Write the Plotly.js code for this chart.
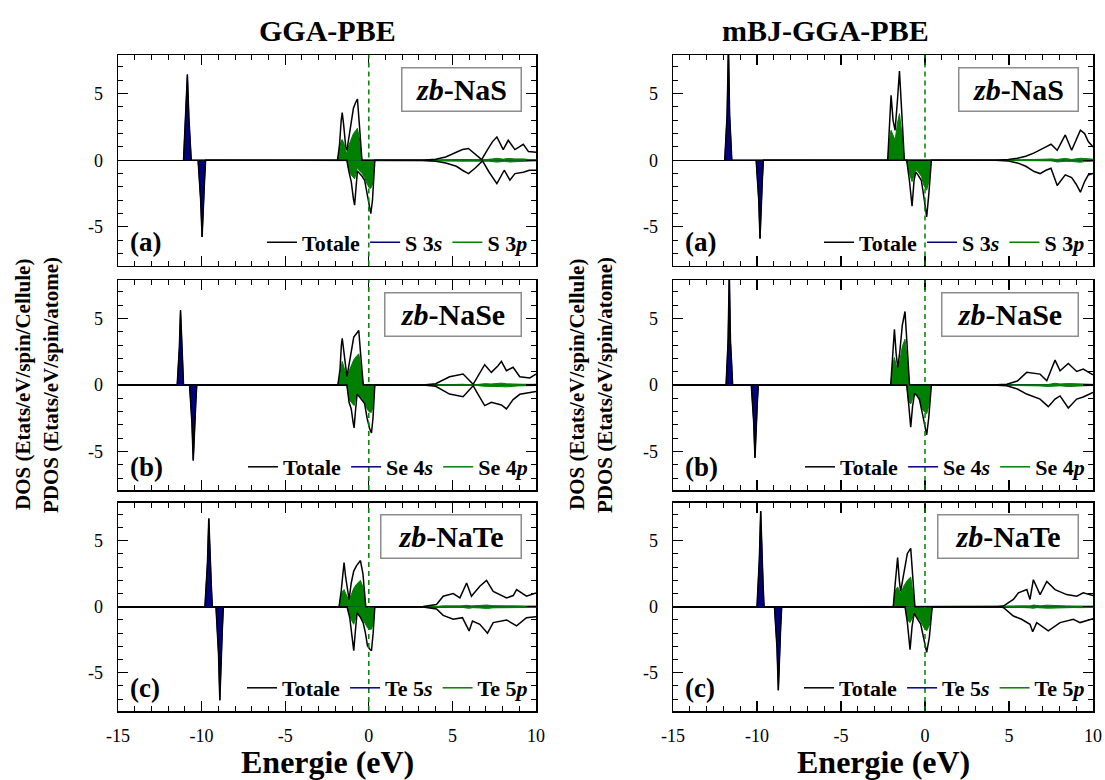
<!DOCTYPE html>
<html><head><meta charset="utf-8">
<script src="https://cdn.plot.ly/plotly-3.0.1.min.js"></script>
<style>html,body{margin:0;padding:0;background:#fff}#chart{width:1105px;height:780px}</style>
</head><body><div id="chart"></div>
<script>
// ---------- GGA-PBE, zb-NaS (a) ----------
const a1_sUpE = [-11.08, -11.02, -10.94, -10.85, -10.76, -10.68, -10.62];
const a1_sUp = [0, 1.6, 3.2, 6.43, 3.2, 1.6, 0];
const a1_sDnE = [-10.21, -10.14, -10.06, -9.97, -9.89, -9.82, -9.76];
const a1_sDn = [0, -1.4, -2.9, -5.75, -2.9, -1.4, 0];
const a1_vbUpE = [-1.87, -1.75, -1.65, -1.59, -1.5, -1.38, -1.31, -1.2, -1.05, -0.92, -0.8, -0.68, -0.56, -0.47, -0.41];
const a1_vbTotUp = [0, 1.2, 3.0, 3.58, 2.6, 1.0, 0.75, 1.6, 2.8, 3.9, 4.3, 4.6, 2.6, 0.8, 0];
const a1_vbPUp = [0, 0.9, 1.5, 1.55, 1.3, 0.7, 0.55, 1.1, 1.6, 2.0, 2.2, 2.4, 1.6, 0.5, 0];
const a1_vbDnE = [-1.31, -1.2, -1.05, -0.92, -0.85, -0.76, -0.68, -0.55, -0.4, -0.25, -0.1, 0.05, 0.12, 0.22, 0.3, 0.36];
const a1_vbTotDn = [0, -0.8, -1.6, -2.9, -3.37, -2.0, -0.8, -1.0, -1.2, -1.5, -2.6, -3.7, -4.0, -3.0, -1.5, 0];
const a1_vbPDn = [0, -0.7, -1.1, -1.3, -1.4, -1.0, -0.55, -0.8, -1.0, -1.3, -1.8, -2.1, -2.1, -1.8, -1.0, 0];
const a1_cbUpE = [3.2, 4.0, 4.6, 5.24, 5.6, 5.96, 6.35, 6.75, 7.1, 7.4, 7.66, 8.04, 8.34, 8.74, 9.0, 9.24, 9.55, 10];
const a1_cbTotUp = [0, 0.08, 0.25, 0.63, 0.8, 0.88, 0.45, 0.05, 0.8, 1.4, 1.75, 0.8, 1.5, 0.8, 1.0, 1.2, 0.65, 0.6];
const a1_cbPUp = [0, 0.01, 0.02, 0.03, 0.04, 0.05, 0.03, 0.01, 0.06, 0.1, 0.15, 0.08, 0.14, 0.1, 0.12, 0.1, 0.06, 0.05];
const a1_cbSUp = [0, 0.02, 0.04, 0.06, 0.06, 0.05, 0.03, 0.01, 0.03, 0.04, 0.05, 0.03, 0.04, 0.03, 0.03, 0.04, 0.02, 0.02];
const a1_cbDnE = [3.2, 4.0, 4.6, 5.24, 5.6, 5.96, 6.35, 6.8, 7.2, 7.66, 8.1, 8.44, 8.74, 9.24, 9.6, 10];
const a1_cbTotDn = [0, -0.08, -0.2, -0.45, -0.75, -1.0, -0.6, -0.05, -0.9, -1.75, -0.75, -1.5, -1.0, -0.9, -0.75, -0.75];
const a1_cbPDn = [0, -0.01, -0.02, -0.03, -0.04, -0.05, -0.03, -0.01, -0.07, -0.14, -0.08, -0.13, -0.1, -0.09, -0.06, -0.05];
const a1_cbSDn = [0, -0.02, -0.04, -0.05, -0.06, -0.05, -0.03, -0.01, -0.03, -0.05, -0.03, -0.04, -0.03, -0.04, -0.02, -0.02];

// ---------- mBJ-GGA-PBE, zb-NaS (a) ----------
const a2_sUpE = [-11.92, -11.86, -11.78, -11.7, -11.63, -11.56, -11.5];
const a2_sUp = [0, 1.6, 3.4, 8.6, 3.4, 1.6, 0];
const a2_sDnE = [-10.05, -9.98, -9.9, -9.82, -9.75, -9.68, -9.62];
const a2_sDn = [0, -1.4, -2.9, -5.88, -2.9, -1.4, 0];
const a2_vbUpE = [-2.22, -2.12, -2.02, -1.9, -1.78, -1.64, -1.52, -1.38, -1.23];
const a2_vbTotUp = [0, 2.5, 4.88, 3.0, 2.25, 4.5, 6.7, 3.5, 0];
const a2_vbPUp = [0, 1.5, 2.25, 1.8, 1.5, 2.8, 3.5, 2.0, 0];
const a2_vbDnE = [-1.09, -0.93, -0.77, -0.65, -0.55, -0.42, -0.22, -0.06, 0.1, 0.23, 0.38];
const a2_vbTotDn = [0, -1.5, -3.45, -1.5, -0.88, -1.1, -1.5, -2.8, -4.25, -2.5, 0];
const a2_vbPDn = [0, -1.0, -1.6, -1.1, -0.7, -0.85, -1.2, -1.9, -2.25, -1.6, 0];
const a2_cbUpE = [4.2, 4.96, 5.5, 6.0, 6.5, 6.85, 7.2, 7.5, 7.87, 8.1, 8.35, 8.73, 9.0, 9.25, 9.5, 9.72, 10];
const a2_cbTotUp = [0, 0.05, 0.15, 0.3, 0.55, 0.75, 1.0, 1.2, 0.75, 1.3, 1.9, 0.75, 1.5, 2.25, 2.0, 1.4, 1.0];
const a2_cbPUp = [0, 0.01, 0.02, 0.03, 0.05, 0.06, 0.08, 0.1, 0.06, 0.1, 0.14, 0.06, 0.1, 0.15, 0.13, 0.1, 0.08];
const a2_cbSUp = [0, 0.01, 0.02, 0.03, 0.04, 0.04, 0.05, 0.04, 0.03, 0.04, 0.05, 0.03, 0.04, 0.05, 0.04, 0.03, 0.03];
const a2_cbDnE = [4.2, 4.96, 5.5, 6.0, 6.5, 6.85, 7.2, 7.5, 7.87, 8.1, 8.35, 8.73, 9.0, 9.25, 9.5, 9.72, 10];
const a2_cbTotDn = [0, -0.05, -0.2, -0.45, -0.85, -1.0, -0.75, -0.6, -1.9, -1.5, -1.1, -1.3, -1.8, -2.4, -1.6, -1.1, -1.0];
const a2_cbPDn = [0, -0.01, -0.02, -0.03, -0.06, -0.07, -0.05, -0.04, -0.13, -0.1, -0.08, -0.09, -0.12, -0.15, -0.1, -0.08, -0.07];
const a2_cbSDn = [0, -0.01, -0.02, -0.03, -0.04, -0.04, -0.04, -0.03, -0.05, -0.04, -0.03, -0.03, -0.04, -0.05, -0.04, -0.03, -0.03];

// ---------- GGA-PBE, zb-NaSe (b) ----------
const b1_sUpE = [-11.46, -11.4, -11.33, -11.26, -11.19, -11.13, -11.08];
const b1_sUp = [0, 1.4, 2.8, 5.63, 2.8, 1.4, 0];
const b1_sDnE = [-10.72, -10.65, -10.58, -10.5, -10.42, -10.35, -10.29];
const b1_sDn = [0, -1.4, -2.8, -5.68, -2.8, -1.4, 0];
const b1_vbUpE = [-1.85, -1.72, -1.64, -1.59, -1.5, -1.38, -1.31, -1.2, -1.05, -0.9, -0.78, -0.66, -0.6, -0.5, -0.4, -0.33];
const b1_vbTotUp = [0, 1.2, 3.0, 3.52, 2.6, 1.0, 0.63, 1.4, 2.5, 3.6, 3.8, 4.0, 4.1, 2.5, 0.9, 0];
const b1_vbPUp = [0, 0.9, 1.6, 1.77, 1.4, 0.7, 0.55, 1.0, 1.5, 1.9, 2.1, 2.3, 2.35, 1.6, 0.5, 0];
const b1_vbDnE = [-1.31, -1.18, -1.05, -0.94, -0.88, -0.8, -0.7, -0.55, -0.4, -0.25, -0.1, 0.05, 0.16, 0.25, 0.36];
const b1_vbTotDn = [0, -1.3, -1.8, -2.8, -3.23, -2.0, -0.68, -0.9, -1.2, -1.4, -2.5, -3.3, -3.6, -2.5, 0];
const b1_vbPDn = [0, -1.1, -1.3, -1.5, -1.55, -1.1, -0.62, -0.8, -1.0, -1.3, -1.8, -2.05, -2.05, -1.6, 0];
const b1_cbUpE = [3.25, 4.0, 4.83, 5.64, 6.24, 6.44, 6.93, 7.33, 7.73, 7.93, 8.23, 8.63, 9.03, 9.63, 10];
const b1_cbTotUp = [0, 0.1, 0.62, 0.82, 0.05, 0.45, 1.53, 0.95, 1.45, 1.78, 1.08, 1.33, 0.62, 0.53, 0.82];
const b1_cbPUp = [0, 0.01, 0.03, 0.04, 0.01, 0.03, 0.1, 0.08, 0.12, 0.14, 0.09, 0.1, 0.06, 0.05, 0.06];
const b1_cbSUp = [0, 0.02, 0.05, 0.05, 0.01, 0.02, 0.05, 0.04, 0.04, 0.05, 0.03, 0.04, 0.02, 0.02, 0.02];
const b1_cbDnE = [3.25, 4.0, 4.83, 5.64, 6.24, 6.44, 6.93, 7.33, 7.73, 7.93, 8.23, 8.63, 9.03, 9.63, 10];
const b1_cbTotDn = [0, -0.1, -0.68, -0.88, -0.05, -0.5, -1.55, -1.3, -1.4, -1.5, -1.8, -1.1, -0.7, -0.55, -0.48];
const b1_cbPDn = [0, -0.01, -0.03, -0.04, -0.01, -0.03, -0.1, -0.09, -0.11, -0.12, -0.14, -0.09, -0.06, -0.05, -0.04];
const b1_cbSDn = [0, -0.02, -0.05, -0.05, -0.01, -0.02, -0.05, -0.04, -0.04, -0.04, -0.05, -0.03, -0.02, -0.02, -0.02];

// ---------- mBJ-GGA-PBE, zb-NaSe (b) ----------
const b2_sUpE = [-11.84, -11.78, -11.72, -11.65, -11.58, -11.51, -11.45];
const b2_sUp = [0, 1.6, 3.3, 8.5, 3.3, 1.6, 0];
const b2_sDnE = [-10.34, -10.27, -10.2, -10.12, -10.05, -9.98, -9.92];
const b2_sDn = [0, -1.3, -2.7, -5.48, -2.7, -1.3, 0];
const b2_vbUpE = [-2.04, -1.93, -1.82, -1.72, -1.62, -1.5, -1.35, -1.19, -1.05, -0.92];
const b2_vbTotUp = [0, 2.2, 4.2, 2.4, 1.3, 2.5, 4.5, 5.53, 2.5, 0];
const b2_vbPUp = [0, 1.5, 2.07, 1.5, 1.2, 1.8, 2.9, 3.45, 1.8, 0];
const b2_vbDnE = [-1.09, -0.99, -0.85, -0.74, -0.62, -0.48, -0.33, -0.13, 0.1, 0.22, 0.38];
const b2_vbTotDn = [0, -1.2, -3.18, -1.6, -0.62, -0.8, -1.1, -2.3, -3.75, -2.5, 0];
const b2_vbPDn = [0, -1.2, -1.43, -1.1, -0.6, -0.75, -1.0, -1.9, -2.17, -1.6, 0];
const b2_cbUpE = [4.0, 4.87, 5.5, 6.05, 6.85, 7.25, 7.74, 8.04, 8.53, 9.03, 9.42, 10];
const b2_cbTotUp = [0, 0.05, 0.3, 0.95, 0.82, 0.32, 1.87, 1.07, 1.62, 1.02, 1.2, 0.77];
const b2_cbPUp = [0, 0.01, 0.02, 0.05, 0.05, 0.02, 0.13, 0.08, 0.11, 0.08, 0.08, 0.05];
const b2_cbSUp = [0, 0.01, 0.02, 0.05, 0.04, 0.02, 0.05, 0.03, 0.04, 0.03, 0.03, 0.02];
const b2_cbDnE = [4.0, 4.87, 5.5, 6.05, 6.85, 7.34, 7.74, 8.04, 8.53, 9.03, 9.42, 10];
const b2_cbTotDn = [0, -0.05, -0.3, -0.68, -1.06, -1.63, -1.06, -0.82, -1.73, -1.06, -0.9, -0.55];
const b2_cbPDn = [0, -0.01, -0.02, -0.04, -0.07, -0.11, -0.07, -0.06, -0.12, -0.07, -0.06, -0.04];
const b2_cbSDn = [0, -0.01, -0.02, -0.04, -0.04, -0.05, -0.04, -0.03, -0.05, -0.03, -0.03, -0.02];

// ---------- GGA-PBE, zb-NaTe (c) ----------
const c1_sUpE = [-9.8, -9.73, -9.65, -9.57, -9.49, -9.42, -9.36];
const c1_sUp = [0, 1.6, 3.3, 6.68, 3.3, 1.6, 0];
const c1_sDnE = [-9.14, -9.07, -8.99, -8.91, -8.83, -8.76, -8.7];
const c1_sDn = [0, -1.7, -3.5, -7.08, -3.5, -1.7, 0];
const c1_vbUpE = [-1.78, -1.65, -1.55, -1.48, -1.38, -1.25, -1.18, -1.05, -0.9, -0.74, -0.6, -0.5, -0.35, -0.25, -0.18];
const c1_vbTotUp = [0, 1.2, 2.8, 3.35, 2.2, 0.9, 0.55, 1.8, 2.7, 3.1, 3.3, 3.5, 2.5, 0.9, 0];
const c1_vbPUp = [0, 0.9, 1.2, 1.3, 1.0, 0.6, 0.45, 0.9, 1.4, 1.7, 1.9, 2.0, 1.5, 0.6, 0];
const c1_vbDnE = [-1.3, -1.14, -1.0, -0.9, -0.8, -0.7, -0.5, -0.34, -0.2, -0.08, 0.05, 0.16, 0.26, 0.36];
const c1_vbTotDn = [0, -0.83, -2.2, -3.33, -1.8, -0.45, -0.8, -1.2, -2.0, -2.95, -3.2, -3.33, -2.0, 0];
const c1_vbPDn = [0, -0.7, -1.1, -1.33, -0.9, -0.4, -0.7, -1.0, -1.3, -1.6, -1.7, -1.7, -1.3, 0];
const c1_cbUpE = [3.25, 4.05, 4.45, 5.05, 5.45, 5.85, 6.14, 6.64, 7.04, 7.44, 8.24, 8.64, 8.84, 9.43, 10];
const c1_cbTotUp = [0.02, 0.17, 0.8, 1.0, 0.67, 1.8, 0.8, 1.55, 2.0, 1.17, 0.67, 0.85, 1.3, 0.8, 1.05];
const c1_cbPUp = [0, 0.01, 0.05, 0.06, 0.04, 0.11, 0.05, 0.1, 0.13, 0.08, 0.05, 0.06, 0.08, 0.05, 0.06];
const c1_cbSUp = [0, 0.02, 0.06, 0.06, 0.04, 0.05, 0.03, 0.04, 0.04, 0.03, 0.02, 0.02, 0.03, 0.02, 0.02];
const c1_cbDnE = [3.25, 4.05, 4.45, 5.05, 5.6, 6.0, 6.2, 6.64, 7.1, 7.44, 8.24, 8.84, 9.43, 10];
const c1_cbTotDn = [-0.02, -0.17, -0.65, -0.95, -0.83, -1.83, -1.08, -1.33, -2.0, -1.2, -1.0, -1.45, -0.83, -0.75];
const c1_cbPDn = [0, -0.01, -0.04, -0.06, -0.05, -0.12, -0.07, -0.09, -0.13, -0.08, -0.06, -0.09, -0.05, -0.05];
const c1_cbSDn = [0, -0.02, -0.06, -0.06, -0.04, -0.05, -0.03, -0.04, -0.04, -0.03, -0.02, -0.03, -0.02, -0.02];

// ---------- mBJ-GGA-PBE, zb-NaTe (c) ----------
const c2_sUpE = [-10.0, -9.93, -9.86, -9.78, -9.71, -9.64, -9.58];
const c2_sUp = [0, 1.7, 3.6, 7.25, 3.6, 1.7, 0];
const c2_sDnE = [-8.96, -8.89, -8.81, -8.73, -8.66, -8.59, -8.53];
const c2_sDn = [0, -1.5, -3.1, -6.33, -3.1, -1.5, 0];
const c2_vbUpE = [-1.89, -1.77, -1.63, -1.53, -1.45, -1.25, -1.05, -0.85, -0.73, -0.6];
const c2_vbTotUp = [0, 1.8, 3.72, 2.0, 1.17, 2.6, 4.04, 4.42, 2.2, 0];
const c2_vbPUp = [0, 1.2, 1.5, 1.2, 1.0, 1.6, 2.0, 2.25, 1.3, 0];
const c2_vbDnE = [-1.19, -1.05, -0.89, -0.77, -0.65, -0.46, -0.26, -0.06, 0.1, 0.26, 0.43];
const c2_vbTotDn = [0, -1.2, -3.25, -1.5, -0.5, -0.9, -1.3, -2.5, -3.45, -2.3, 0];
const c2_vbPDn = [0, -1.0, -1.2, -0.9, -0.45, -0.8, -1.1, -1.6, -1.83, -1.4, 0];
const c2_cbUpE = [4.3, 4.66, 5.26, 5.56, 6.06, 6.25, 6.45, 6.85, 7.25, 7.74, 8.43, 9.03, 9.42, 10];
const c2_cbTotUp = [0, 0.05, 0.55, 1.05, 1.3, 0.55, 2.05, 0.92, 1.92, 1.3, 0.92, 0.8, 1.05, 0.85];
const c2_cbPUp = [0, 0.01, 0.04, 0.07, 0.08, 0.04, 0.13, 0.06, 0.12, 0.08, 0.06, 0.05, 0.06, 0.05];
const c2_cbSUp = [0, 0.02, 0.05, 0.06, 0.05, 0.03, 0.05, 0.03, 0.04, 0.03, 0.02, 0.02, 0.02, 0.02];
const c2_cbDnE = [4.3, 4.66, 5.26, 5.75, 6.25, 6.41, 6.65, 7.34, 8.04, 8.83, 9.23, 10];
const c2_cbTotDn = [0, -0.05, -0.7, -0.95, -1.33, -1.9, -1.2, -1.83, -1.2, -0.95, -1.2, -0.9];
const c2_cbPDn = [0, -0.01, -0.05, -0.06, -0.08, -0.12, -0.07, -0.11, -0.07, -0.06, -0.07, -0.05];
const c2_cbSDn = [0, -0.02, -0.05, -0.05, -0.04, -0.05, -0.03, -0.04, -0.03, -0.02, -0.03, -0.02];

// ---------- labels ----------
const methodTitles = ['GGA-PBE', 'mBJ-GGA-PBE'];
const compounds = ['NaS', 'NaSe', 'NaTe'];
const panelTags = ['(a)', '(b)', '(c)'];
const anions = ['S', 'Se', 'Te'];
const shells = ['3', '4', '5'];
const xTicks = [-15, -10, -5, 0, 5, 10];
const yTicks = [-5, 0, 5];
const yTitle1 = 'DOS (Etats/eV/spin/Cellule)';
const yTitle2 = 'PDOS (Etats/eV/spin/atome)';
const xTitle = 'Energie (eV)';

// table built from the arrays above
const DATA = {
  a1: {sUpE:a1_sUpE,sUp:a1_sUp,sDnE:a1_sDnE,sDn:a1_sDn,vbUpE:a1_vbUpE,vbTotUp:a1_vbTotUp,vbPUp:a1_vbPUp,vbDnE:a1_vbDnE,vbTotDn:a1_vbTotDn,vbPDn:a1_vbPDn,cbUpE:a1_cbUpE,cbTotUp:a1_cbTotUp,cbPUp:a1_cbPUp,cbSUp:a1_cbSUp,cbDnE:a1_cbDnE,cbTotDn:a1_cbTotDn,cbPDn:a1_cbPDn,cbSDn:a1_cbSDn},
  a2: {sUpE:a2_sUpE,sUp:a2_sUp,sDnE:a2_sDnE,sDn:a2_sDn,vbUpE:a2_vbUpE,vbTotUp:a2_vbTotUp,vbPUp:a2_vbPUp,vbDnE:a2_vbDnE,vbTotDn:a2_vbTotDn,vbPDn:a2_vbPDn,cbUpE:a2_cbUpE,cbTotUp:a2_cbTotUp,cbPUp:a2_cbPUp,cbSUp:a2_cbSUp,cbDnE:a2_cbDnE,cbTotDn:a2_cbTotDn,cbPDn:a2_cbPDn,cbSDn:a2_cbSDn},
  b1: {sUpE:b1_sUpE,sUp:b1_sUp,sDnE:b1_sDnE,sDn:b1_sDn,vbUpE:b1_vbUpE,vbTotUp:b1_vbTotUp,vbPUp:b1_vbPUp,vbDnE:b1_vbDnE,vbTotDn:b1_vbTotDn,vbPDn:b1_vbPDn,cbUpE:b1_cbUpE,cbTotUp:b1_cbTotUp,cbPUp:b1_cbPUp,cbSUp:b1_cbSUp,cbDnE:b1_cbDnE,cbTotDn:b1_cbTotDn,cbPDn:b1_cbPDn,cbSDn:b1_cbSDn},
  b2: {sUpE:b2_sUpE,sUp:b2_sUp,sDnE:b2_sDnE,sDn:b2_sDn,vbUpE:b2_vbUpE,vbTotUp:b2_vbTotUp,vbPUp:b2_vbPUp,vbDnE:b2_vbDnE,vbTotDn:b2_vbTotDn,vbPDn:b2_vbPDn,cbUpE:b2_cbUpE,cbTotUp:b2_cbTotUp,cbPUp:b2_cbPUp,cbSUp:b2_cbSUp,cbDnE:b2_cbDnE,cbTotDn:b2_cbTotDn,cbPDn:b2_cbPDn,cbSDn:b2_cbSDn},
  c1: {sUpE:c1_sUpE,sUp:c1_sUp,sDnE:c1_sDnE,sDn:c1_sDn,vbUpE:c1_vbUpE,vbTotUp:c1_vbTotUp,vbPUp:c1_vbPUp,vbDnE:c1_vbDnE,vbTotDn:c1_vbTotDn,vbPDn:c1_vbPDn,cbUpE:c1_cbUpE,cbTotUp:c1_cbTotUp,cbPUp:c1_cbPUp,cbSUp:c1_cbSUp,cbDnE:c1_cbDnE,cbTotDn:c1_cbTotDn,cbPDn:c1_cbPDn,cbSDn:c1_cbSDn},
  c2: {sUpE:c2_sUpE,sUp:c2_sUp,sDnE:c2_sDnE,sDn:c2_sDn,vbUpE:c2_vbUpE,vbTotUp:c2_vbTotUp,vbPUp:c2_vbPUp,vbDnE:c2_vbDnE,vbTotDn:c2_vbTotDn,vbPDn:c2_vbPDn,cbUpE:c2_cbUpE,cbTotUp:c2_cbTotUp,cbPUp:c2_cbPUp,cbSUp:c2_cbSUp,cbDnE:c2_cbDnE,cbTotDn:c2_cbTotDn,cbPDn:c2_cbPDn,cbSDn:c2_cbSDn}
};

const SERIF = '"Liberation Serif"';
const W = 1105, H = 780;
const XDOM = [[118/W, 536/W], [673/W, 1093/W]];
const YDOM = [[1-265.5/H, 1-55/H], [1-490/H, 1-280/H], [1-711/H, 1-502.5/H]];
const COL_S = '#000080', COL_P = '#008000';
const BOXW = [108, 125, 129];

const traces = [];
const layout = {
  width: W, height: H,
  margin: {l:0, r:0, t:0, b:0},
  paper_bgcolor: '#fff', plot_bgcolor: '#fff',
  font: {family: SERIF, color: '#000'},
  showlegend: true,
  shapes: [], annotations: []
};

const rows = ['a','b','c'];
let n = 0;
for (let r = 0; r < 3; r++) {
  for (let c = 0; c < 2; c++) {
    n++;
    const d = DATA[rows[r] + (c+1)];
    const xa = 'x' + (n>1?n:''), ya = 'y' + (n>1?n:'');
    const lg = 'legend' + (n>1?n:'');
    const base = {xaxis: xa, yaxis: ya, type:'scatter', mode:'lines', hoverinfo:'skip', legend: lg};
    traces.push(Object.assign({}, base, {x: d.sUpE.concat(d.cbUpE), y: d.sUp.concat(d.cbSUp), fill:'tozeroy', fillcolor: COL_S, line:{color:COL_S, width:1}, showlegend:false}));
    traces.push(Object.assign({}, base, {x: d.sDnE.concat(d.cbDnE), y: d.sDn.concat(d.cbSDn), fill:'tozeroy', fillcolor: COL_S, line:{color:COL_S, width:1}, showlegend:false}));
    traces.push(Object.assign({}, base, {x: d.vbUpE.concat(d.cbUpE), y: d.vbPUp.concat(d.cbPUp), fill:'tozeroy', fillcolor: COL_P, line:{color:COL_P, width:1}, showlegend:false}));
    traces.push(Object.assign({}, base, {x: d.vbDnE.concat(d.cbDnE), y: d.vbPDn.concat(d.cbPDn), fill:'tozeroy', fillcolor: COL_P, line:{color:COL_P, width:1}, showlegend:false}));
    traces.push(Object.assign({}, base, {x: d.sUpE.concat(d.vbUpE, d.cbUpE), y: d.sUp.concat(d.vbTotUp, d.cbTotUp), line:{color:'#000', width:1.5}, name:'<b>Totale</b>', showlegend:true}));
    traces.push(Object.assign({}, base, {x: d.sDnE.concat(d.vbDnE, d.cbDnE), y: d.sDn.concat(d.vbTotDn, d.cbTotDn), line:{color:'#000', width:1.5}, showlegend:false}));
    traces.push(Object.assign({}, base, {x:[null], y:[null], line:{color:COL_S, width:1.5}, name:'<b>' + anions[r] + ' ' + shells[r] + '<i>s</i></b>', showlegend:true}));
    traces.push(Object.assign({}, base, {x:[null], y:[null], line:{color:COL_P, width:1.5}, name:'<b>' + anions[r] + ' ' + shells[r] + '<i>p</i></b>', showlegend:true}));

    const axCommon = {
      showline:true, mirror:'ticks', linecolor:'#000', linewidth:1.5,
      ticks:'inside', ticklen:10, tickwidth:1.2, tickcolor:'#000',
      showgrid:false, fixedrange:true,
      tickfont:{family:SERIF, size:18, color:'#000'}
    };
    layout['xaxis' + (n>1?n:'')] = Object.assign({}, axCommon, {
      domain: XDOM[c], anchor: ya, range:[-15, 10],
      tickvals: xTicks, ticktext: xTicks.map(String),
      minor:{dtick:1, tick0:0, ticks:'inside', ticklen:5, tickwidth:1, tickcolor:'#000', showgrid:false},
      zeroline:false, showticklabels: r === 2, ticklabelstandoff: 8
    });
    layout['yaxis' + (n>1?n:'')] = Object.assign({}, axCommon, {
      domain: YDOM[r], anchor: xa, range:[-7.9, 7.9],
      tickvals: yTicks, ticktext: yTicks.map(String),
      minor:{dtick:1, tick0:0, ticks:'inside', ticklen:5, tickwidth:1, tickcolor:'#000', showgrid:false},
      zeroline:true, zerolinecolor:'#000', zerolinewidth:1.5, ticklabelstandoff: 10
    });
    layout[lg] = {
      orientation:'h', x: XDOM[c][1] - 3/W, xanchor:'right',
      y: YDOM[r][0] + 23/H, yanchor:'middle',
      bgcolor:'rgba(0,0,0,0)', borderwidth:0,
      font:{family:SERIF, size:22, color:'#000'},
      itemwidth:30, tracegroupgap:0, traceorder:'normal'
    };
    layout.shapes.push({type:'line', xref: xa, yref: ya + ' domain', x0:0, x1:0, y0:0, y1:1,
      line:{color:COL_P, width:1.5, dash:'5px,4px'}});
    layout.annotations.push({xref: xa + ' domain', yref: ya + ' domain', x: 1 - 14/418, y: 1 - 12/210,
      xanchor:'right', yanchor:'top', showarrow:false, width: BOXW[r], height: 32, align:'center', valign:'middle',
      text:'<b><i>zb</i>-' + compounds[r] + '</b>', font:{family:SERIF, size:30, color:'#000'},
      bordercolor:'#8c8c8c', borderwidth:1.5, borderpad:5, bgcolor:'#fff'});
    layout.annotations.push({xref: xa + ' domain', yref: ya + ' domain', x: 10/418, y: 23/210,
      xanchor:'left', yanchor:'middle', showarrow:false,
      text:'<b>' + panelTags[r] + '</b>', font:{family:SERIF, size:27, color:'#000'}});
  }
}

const colCenters = [327/W, 825/W];
const xTitleCenters = [327/W, 883/W];
const yTitleX = [[23/W, 51/W], [577/W, 605/W]];
for (let c = 0; c < 2; c++) {
  layout.annotations.push({xref:'paper', yref:'paper', x: colCenters[c], y: 1 - 31/H, xanchor:'center', yanchor:'middle',
    showarrow:false, text:'<b>' + methodTitles[c] + '</b>', font:{family:SERIF, size:30, color:'#000'}});
  layout.annotations.push({xref:'paper', yref:'paper', x: xTitleCenters[c], y: 1 - 762/H, xanchor:'center', yanchor:'middle',
    showarrow:false, text:'<b>' + xTitle + '</b>', font:{family:SERIF, size:32, color:'#000'}});
  layout.annotations.push({xref:'paper', yref:'paper', x: yTitleX[c][0], y: 1 - 385/H, xanchor:'center', yanchor:'middle',
    textangle:-90, showarrow:false, text:'<b>' + yTitle1 + '</b>', font:{family:SERIF, size:21, color:'#000'}});
  layout.annotations.push({xref:'paper', yref:'paper', x: yTitleX[c][1], y: 1 - 385/H, xanchor:'center', yanchor:'middle',
    textangle:-90, showarrow:false, text:'<b>' + yTitle2 + '</b>', font:{family:SERIF, size:21, color:'#000'}});
}

Plotly.newPlot('chart', traces, layout, {displayModeBar:false, staticPlot:true});
</script>
</body></html>
